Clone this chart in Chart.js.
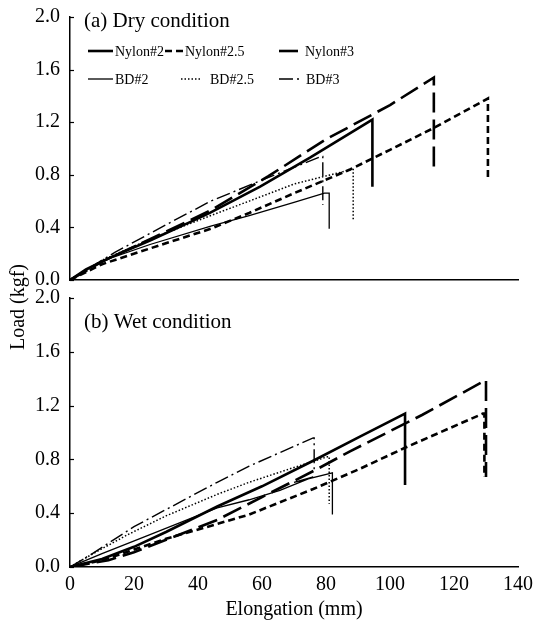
<!DOCTYPE html>
<html>
<head>
<meta charset="utf-8">
<script src="https://cdn.jsdelivr.net/npm/chart.js@4.4.0/dist/chart.umd.min.js"></script>
<style>
  body { margin: 0; background: #fff; }
  #wrap { position: relative; width: 535px; height: 628px; }
  #wrap canvas { position: absolute; left: 0; }
  #dry { top: 0; }
  #wet { top: 272px; }
  #ylab {
    position: absolute; left: -82px; top: 295px; width: 200px; height: 24px;
    line-height: 24px; text-align: center; transform: rotate(-90deg);
    font: 20px 'Liberation Serif', 'Times New Roman', serif; color: #000;
  }
</style>
</head>
<body>
<div id="wrap">
  <canvas id="dry" width="535" height="300"></canvas>
  <canvas id="wet" width="535" height="356"></canvas>
  <div id="ylab">Load (kgf)</div>
</div>
<script>
// elongation (mm), load (kgf) pairs
const dryNylon2  = [[0,0],[5,0.08],[12.5,0.17],[25,0.3],[37.5,0.44],[43.7,0.51],[59.4,0.71],[75,0.93],[94.5,1.22],[94.5,0.71]]
const dryNylon25 = [[0,0],[10,0.12],[25,0.24],[44,0.39],[56,0.51],[70,0.66],[87.5,0.84],[100,0.99],[114,1.16],[130.6,1.38],[130.6,0.76]]
const dryNylon3  = [[0,0],[10,0.14],[25,0.31],[44,0.53],[62,0.79],[80,1.07],[100,1.33],[113.7,1.54],[113.7,0.86]]
const dryBD2     = [[0,0],[5,0.08],[12,0.16],[25,0.27],[44,0.41],[56,0.49],[70,0.59],[79.5,0.66],[81,0.66],[81,0.39]]
const dryBD25    = [[0,0],[10,0.15],[25,0.31],[44,0.49],[56,0.6],[70,0.73],[88,0.84],[88.5,0.84],[88.5,0.46]]
const dryBD3     = [[0,0],[14,0.21],[30,0.42],[44,0.6],[59,0.75],[78.5,0.94],[79,0.94],[79,0.57]]

const wetNylon2  = [[0,0],[10,0.06],[20,0.15],[30,0.26],[46,0.45],[60,0.6],[76,0.79],[90.6,0.97],[104.7,1.14],[104.7,0.61]]
const wetNylon25 = [[0,0],[10,0.05],[20,0.13],[30,0.21],[46,0.32],[56,0.39],[76,0.58],[90.6,0.73],[105,0.89],[129,1.14],[129.5,1.14],[129.5,0.67]]
const wetNylon3  = [[0,0],[12,0.05],[20,0.11],[46,0.35],[60,0.52],[76.6,0.72],[87.5,0.86],[110,1.13],[130,1.39],[130,0.67]]
const wetBD2     = [[0,0],[10,0.1],[25,0.24],[46,0.44],[56,0.5],[65.6,0.57],[76,0.67],[70,0.63],[82,0.7],[82,0.39]]
const wetBD25    = [[0,0],[8,0.11],[18,0.24],[30,0.38],[46,0.54],[56,0.63],[70,0.74],[80.5,0.82],[81,0.82],[81,0.47]]
const wetBD3     = [[0,0],[7,0.1],[20,0.3],[46,0.63],[56,0.75],[76,0.96],[76.3,0.96],[76.3,0.72]]

const seriesNames = ['Nylon#2', 'Nylon#2.5', 'Nylon#3', 'BD#2', 'BD#2.5', 'BD#3']
const xTickStep = 20
const yTickStep = 0.4

const ink = '#000'
const serif = "'Liberation Serif', 'Times New Roman', serif"

const lineStyles = [
    { borderWidth: 2.6, borderDash: [] },
    { borderWidth: 2.6, borderDash: [7, 4] },
    { borderWidth: 2.6, borderDash: [20, 7] },
    { borderWidth: 1.3, borderDash: [] },
    { borderWidth: 1.5, borderDash: [1.5, 2] },
    { borderWidth: 1.4, borderDash: [14, 4, 2, 4] },
]

// legend slot layout: sample start/end, text x, row y (page px)
const legendSlots = [
    { x0: 88, x1: 113, tx: 115, y: 51 },
    { x0: 165, x1: 183, tx: 185, y: 51 },
    { x0: 279, x1: 298, tx: 305, y: 51 },
    { x0: 88, x1: 113, tx: 115, y: 79 },
    { x0: 181, x1: 200, tx: 210, y: 79 },
    { x0: 279, x1: 300, tx: 306, y: 79 },
]

function toDatasets(groups) {
    return groups.map((pts, i) => ({
        label: seriesNames[i],
        data: pts.map(p => ({ x: p[0], y: p[1] })),
        borderColor: ink,
        backgroundColor: ink,
        pointRadius: 0,
        tension: 0,
        fill: false,
        ...lineStyles[i],
    }))
}

const inwardTicks = {
    id: 'inwardTicks',
    afterDraw(chart) {
        const { ctx, chartArea, scales: { y } } = chart
        ctx.save()
        ctx.strokeStyle = ink
        ctx.lineWidth = 1.2
        y.ticks.forEach(t => {
            const py = Math.round(y.getPixelForValue(t.value)) + 0.5
            ctx.beginPath()
            ctx.moveTo(chartArea.left, py)
            ctx.lineTo(chartArea.left + 4, py)
            ctx.stroke()
        })
        ctx.restore()
    }
}

const panelTitle = {
    id: 'panelTitle',
    afterDraw(chart, args, opts) {
        const { ctx, chartArea } = chart
        ctx.save()
        ctx.fillStyle = ink
        ctx.font = '21px ' + serif
        ctx.textBaseline = 'middle'
        ctx.fillText(opts.text, chartArea.left + 14, chartArea.top + opts.dy)
        ctx.restore()
    }
}

const lineLegend = {
    id: 'lineLegend',
    afterDraw(chart, args, opts) {
        if (!opts.show) return
        const { ctx } = chart
        ctx.save()
        ctx.font = '14px ' + serif
        ctx.textBaseline = 'middle'
        ctx.fillStyle = ink
        chart.data.datasets.forEach((ds, i) => {
            const s = legendSlots[i]
            ctx.strokeStyle = ink
            ctx.lineWidth = ds.borderWidth
            ctx.setLineDash(ds.borderDash)
            ctx.beginPath()
            ctx.moveTo(s.x0, s.y)
            ctx.lineTo(s.x1, s.y)
            ctx.stroke()
            ctx.setLineDash([])
            ctx.fillText(ds.label, s.tx, s.y + 1)
        })
        ctx.restore()
    }
}

function makeConfig(groups, opts) {
    return {
        type: 'line',
        data: { datasets: toDatasets(groups) },
        options: {
            responsive: false,
            animation: false,
            devicePixelRatio: 1,
            layout: { padding: opts.padding },
            plugins: {
                legend: { display: false },
                tooltip: { enabled: false },
                panelTitle: { text: opts.title, dy: opts.titleDy },
                lineLegend: { show: opts.legend },
            },
            scales: {
                x: {
                    type: 'linear',
                    min: 0,
                    max: 140,
                    grid: { display: false, drawTicks: false },
                    border: { display: true, color: ink, width: 1.5 },
                    ticks: {
                        display: opts.xTicks,
                        stepSize: xTickStep,
                        padding: 6,
                        color: ink,
                        font: { family: serif, size: 20 },
                    },
                    title: {
                        display: opts.xTicks,
                        text: 'Elongation (mm)',
                        color: ink,
                        font: { family: serif, size: 20 },
                        padding: { top: 0, bottom: 6 },
                    },
                    afterFit(s) {
                        s.height = opts.xHeight
                        s.paddingLeft = 0
                        s.paddingRight = 0
                    },
                },
                y: {
                    min: 0,
                    max: 2,
                    grid: { display: false, drawTicks: false },
                    border: { display: true, color: ink, width: 1.5 },
                    ticks: {
                        stepSize: yTickStep,
                        padding: 10,
                        color: ink,
                        font: { family: serif, size: 20 },
                        callback: v => v.toFixed(1),
                    },
                    afterFit(s) {
                        s.width = 70
                        s.paddingTop = 0
                        s.paddingBottom = 0
                    },
                },
            },
        },
        plugins: [inwardTicks, panelTitle, lineLegend],
    }
}

new Chart('dry', makeConfig(
    [dryNylon2, dryNylon25, dryNylon3, dryBD2, dryBD25, dryBD3],
    { padding: { top: 17, right: 17, bottom: 20, left: 0 }, title: '(a) Dry condition', titleDy: 4,
      legend: true, xTicks: false, xHeight: 0 }
))

new Chart('wet', makeConfig(
    [wetNylon2, wetNylon25, wetNylon3, wetBD2, wetBD25, wetBD3],
    { padding: { top: 26, right: 17, bottom: 0, left: 0 }, title: '(b) Wet condition', titleDy: 24,
      legend: false, xTicks: true, xHeight: 61 }
))
</script>
</body>
</html>
